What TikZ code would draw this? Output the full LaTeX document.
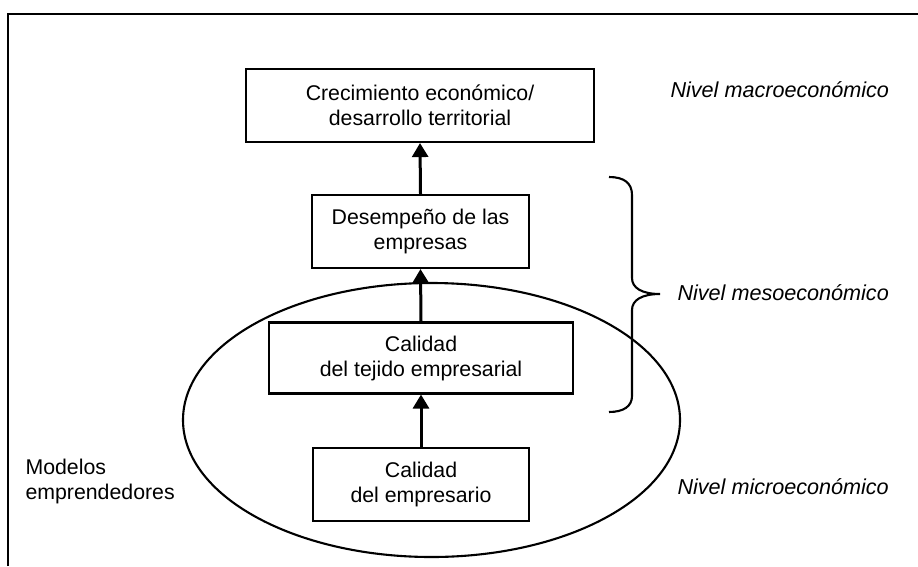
\documentclass[tikz,border=0pt]{standalone}
\usepackage{fontspec}
\setmainfont{Liberation Sans}
\usetikzlibrary{arrows.meta,positioning}

\begin{document}
\begin{tikzpicture}[x=1pt, y=-1pt,
    every node/.style={font=\fontsize{21.3}{25}\selectfont},
    levelbox/.style={draw, line width=2.1pt, inner sep=0pt, align=center},
    levelarrow/.style={line width=3pt, -{Triangle[length=14pt, width=16pt]}},
    levelname/.style={anchor=west, font=\fontsize{21.6}{25}\selectfont\itshape}]

\useasboundingbox (0,0) rectangle (918,566);

% Open frame (top and left only)
\draw[line width=2.3pt] (8,566) -- (8,14) -- (918,14);

% Boxes, bottom to top
\node[levelbox, minimum width=348pt, minimum height=73pt] (growth) at (420,105.5)
    {Crecimiento económico/\\desarrollo territorial};
\node[levelbox, minimum width=217pt, minimum height=73pt] (firms) at (420.5,231.5)
    {Desempeño de las\\empresas};
\node[levelbox, minimum width=304pt, minimum height=71pt] (fabric) at (421,358)
    {Calidad\\del tejido empresarial};
\node[levelbox, minimum width=216pt, minimum height=73pt] (owner) at (421,484.5)
    {Calidad\\del empresario};

% Arrows between the levels
\draw[levelarrow] (owner.north) -- (fabric.south);
\draw[levelarrow] (fabric.north) -- (firms.south);
\draw[levelarrow] (firms.north) -- (growth.south);

% Ellipse round the entrepreneur models
\draw[line width=2.1pt] (431.5,420) ellipse (248.5pt and 137pt);

% Brace for the meso level
\draw[line width=2.1pt] (609,177) .. controls (624,177) and (632,183) .. (632,195)
    -- (632,278) .. controls (632,288) and (642,294) .. (660,294)
    .. controls (642,294) and (632,300) .. (632,310)
    -- (632,396) .. controls (632,406) and (624,412) .. (609,412);

% Level labels
\node[levelname] (macro) at (667,90) {Nivel macroeconómico};
\node[levelname] (meso) at (674,293) {Nivel mesoeconómico};
\node[levelname] (micro) at (674,487) {Nivel microeconómico};

\node[anchor=west, align=left] (models) at (22,481) {Modelos\\emprendedores};

\end{tikzpicture}
\end{document}
